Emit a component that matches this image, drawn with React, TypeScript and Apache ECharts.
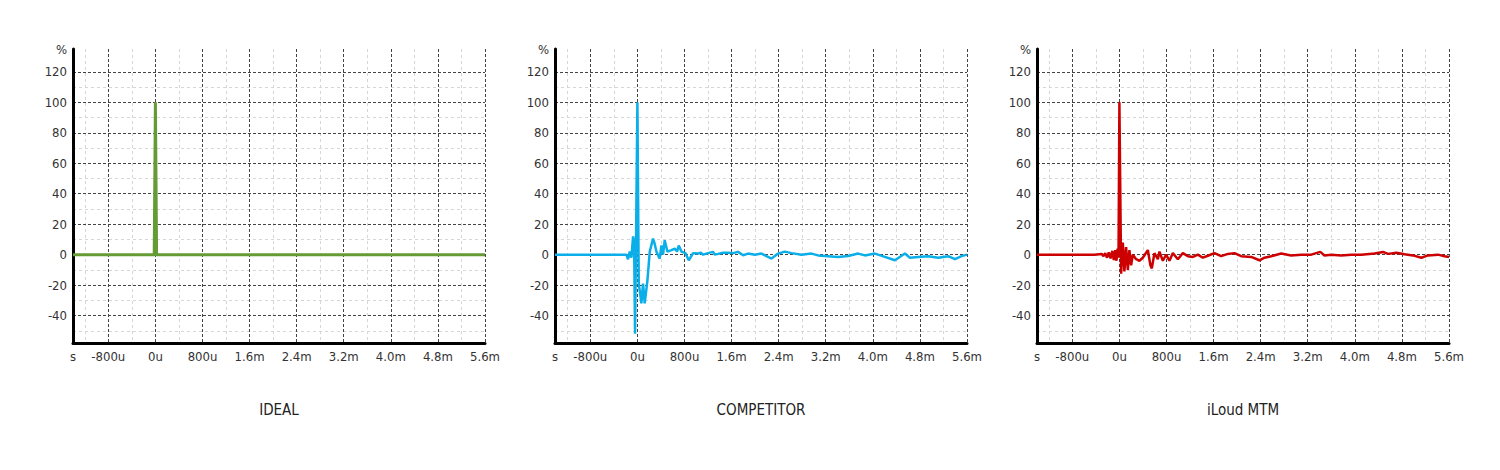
import React, { useEffect, useRef } from "react";
import * as echarts from "echarts";

// ---- Axis ticks ----
const xMin = -1400;
const xMax = 5600;
const xMajorTicks = [-800, 0, 800, 1600, 2400, 3200, 4000, 4800, 5600];
const xMinorTicks = [-1200, -400, 400, 1200, 2000, 2800, 3600, 4400, 5200];
const xLabelValues = [-1400, -800, 0, 800, 1600, 2400, 3200, 4000, 4800, 5600];
const xLabelTexts = ["s", "-800u", "0u", "800u", "1.6m", "2.4m", "3.2m", "4.0m", "4.8m", "5.6m"];

const yMin = -58;
const yMax = 135;
const yMajorTicks = [-40, -20, 0, 20, 40, 60, 80, 100, 120];
const yMinorTicks = [-50, -30, -10, 10, 30, 50, 70, 90, 110];
const yLabelValues = [-40, -20, 0, 20, 40, 60, 80, 100, 120, 135];
const yLabelTexts = ["-40", "-20", "0", "20", "40", "60", "80", "100", "120", "%"];

// ---- Titles ----
const titles = ["IDEAL", "COMPETITOR", "iLoud MTM"];
const colors = ["#659b35", "#0aaee9", "#cc0000"];

// ---- Data (time in microseconds, value in %) ----
const idealTime = [-1400, -20, 0, 20, 5600];
const idealValue = [0, 0, 100, 0, 0];

const competitorTime = [
  -1400, -187, -159, -130, -102, -73, -56, -40, -23, 0, 23, 45, 68, 96, 124, 170, 210, 266, 294, 323,
  379, 408, 436, 464, 510, 578, 634, 674, 703, 748, 816, 873, 946, 1031, 1076, 1116, 1173, 1201, 1286, 1314, 1371,
  1456, 1541, 1626, 1711, 1796, 1881, 1995, 2108, 2193, 2278, 2391, 2504, 2618, 2788, 2958, 3071, 3241,
  3411, 3581, 3751, 3865, 4035, 4205, 4375, 4545, 4630, 4771, 4941, 5111, 5281, 5394, 5508, 5600,
];
const competitorValue = [
  0, 0, -3, 2, -2, 12, 8, -52, 10, 100, -19, -25, -32, -19, -32, -17, 2, 10.6, 7, 2,
  -2.6, 6, 0, 9.5, 2, 3, 4, 2, 6, 2, 1, -3.7, 1, 0.7, 1.2, 0, 0.7, 1, 1.8, 0, 0.5,
  1.3, 1.3, 1, 1.8, -0.4, 0.7, 0, 0.7, -1, -2.6, 0.7, 2, 1, 0, 0.7, -0.5, -1,
  -1.5, -0.9, 0.7, -0.5, 0.7, -1.5, -3.7, 0.7, -2, -1.5, -1, -2, -1, -2.9, -1, 0,
];

const iloudTime = [
  -1400, -425, -300, -270, -240, -210, -180, -150, -120, -95, -70, -50, -30, -15, 0, 29, 58, 85, 114,
  143, 170, 199, 228, 284, 340, 398, 483, 527, 551, 595, 653, 680, 738, 794, 850, 908, 993, 1078, 1163,
  1248, 1333, 1418, 1503, 1615, 1729, 1843, 1955, 2069, 2239, 2380, 2465, 2579, 2749, 2919, 3089, 3259,
  3412, 3485, 3599, 3769, 3939, 4109, 4335, 4478, 4563, 4705, 4845, 4988, 5130, 5243, 5413, 5526, 5600,
];
const iloudValue = [
  0, 0, 0.5, -1, 1, -2, 1.5, -2.5, 2.5, -3.5, 3, -4, 4, -2, 100, -12.5, 8, -11, 5,
  -10, 3, -7, 0, -3, -4, -2, 3, -7, -9, 1, -3, 2, -4, 0, -4, 1, -3, 1, -1,
  -1.5, 0, -2, -0.7, 1, -1, 0.5, 1, -1, -1.5, -3.7, -2, -1, 0.7, -0.5, 0, 0,
  1.8, -0.5, 0, -0.5, 0, 0, 0.7, 1.8, 0.5, 1.3, 0.2, -0.5, -2, -0.5, 0, -1, -1.5,
];

const seriesTimes = [idealTime, competitorTime, iloudTime];
const seriesValues = [idealValue, competitorValue, iloudValue];
const lineWidths = [3, 2.5, 2.5];

const FONT = '"Liberation Sans Narrow", "DejaVu Sans Condensed", "Liberation Sans", sans-serif';

export default function App() {
  const ref = useRef<HTMLDivElement>(null);
  useEffect(() => {
    document.body.style.margin = "0";
    if (!ref.current) return;
    const chart = echarts.init(ref.current, null, { renderer: "svg" });

    const grids: any[] = [];
    const xAxes: any[] = [];
    const yAxes: any[] = [];
    const series: any[] = [];
    const graphics: any[] = [];

    for (let i = 0; i < 3; i++) {
      const left = 73 + 482 * i;
      grids.push({ left, top: 49, width: 412, height: 294, containLabel: false });
      xAxes.push({
        type: "value",
        gridIndex: i,
        position: "bottom",
        min: xMin,
        max: xMax,
        axisLine: { show: true, onZero: false, lineStyle: { color: "#000", width: 3 } },
        axisTick: { show: false, customValues: xMajorTicks },
        axisLabel: {
          show: true,
          customValues: xLabelValues,
          formatter: (v: number) => {
            const k = xLabelValues.indexOf(v);
            return k >= 0 ? xLabelTexts[k] : "";
          },
          margin: 7,
          fontFamily: FONT,
          fontSize: 13,
          color: "#333",
        },
        splitLine: { show: true, lineStyle: { color: "#444", width: 1, type: [3, 2] } },
        z: 3,
      });
      xAxes.push({
        type: "value",
        gridIndex: i,
        position: "top",
        min: xMin,
        max: xMax,
        axisLine: { show: false },
        axisTick: { show: false, customValues: xMinorTicks },
        axisLabel: { show: false },
        splitLine: { show: true, lineStyle: { color: "#d6d6d6", width: 1, type: [3, 3] } },
        z: 1,
      });
      yAxes.push({
        type: "value",
        gridIndex: i,
        position: "left",
        min: yMin,
        max: yMax,
        axisLine: { show: true, onZero: false, lineStyle: { color: "#000", width: 3 } },
        axisTick: { show: false, customValues: yMajorTicks },
        axisLabel: {
          show: true,
          customValues: yLabelValues,
          formatter: (v: number) => {
            const k = yLabelValues.indexOf(v);
            return k >= 0 ? yLabelTexts[k] : "";
          },
          margin: 6,
          fontFamily: FONT,
          fontSize: 13,
          color: "#333",
        },
        splitLine: { show: true, lineStyle: { color: "#444", width: 1, type: [3, 2] } },
        z: 3,
      });
      yAxes.push({
        type: "value",
        gridIndex: i,
        position: "right",
        min: yMin,
        max: yMax,
        axisLine: { show: false },
        axisTick: { show: false, customValues: yMinorTicks },
        axisLabel: { show: false },
        splitLine: { show: true, lineStyle: { color: "#d6d6d6", width: 1, type: [3, 3] } },
        z: 1,
      });

      const data = seriesTimes[i].map((t, j) => [t, seriesValues[i][j]]);
      series.push({
        type: "line",
        name: titles[i],
        xAxisIndex: 2 * i,
        yAxisIndex: 2 * i,
        data,
        showSymbol: false,
        symbol: "none",
        lineStyle: { color: colors[i], width: lineWidths[i] },
        itemStyle: { color: colors[i] },
        z: 5,
      });

      graphics.push({
        type: "text",
        x: left + 206,
        y: 410,
        style: {
          text: titles[i],
          fill: "#222",
          font: `15px ${FONT}`,
          textAlign: "center",
          textVerticalAlign: "middle",
        },
      });
    }

    chart.setOption({
      animation: false,
      backgroundColor: "#fff",
      grid: grids,
      xAxis: xAxes,
      yAxis: yAxes,
      series,
      graphic: graphics,
    });
    return () => chart.dispose();
  }, []);
  return <div ref={ref} style={{ width: 1500, height: 470 }} />;
}
